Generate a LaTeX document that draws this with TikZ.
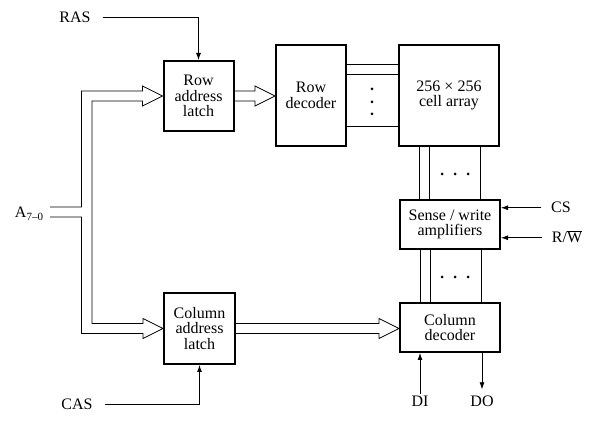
\documentclass[tikz,border=0pt]{standalone}
\usepackage{fontspec}
\setmainfont{Liberation Serif}
\usetikzlibrary{arrows.meta,calc}
\newcommand\busarrow[2]{\draw[wire] ($(#1)+(0,5pt)$) -- ($(#2)+(-20pt,5pt)$) -- ($(#2)+(-20pt,10pt)$) -- (#2) -- ($(#2)+(-20pt,-10pt)$) -- ($(#2)+(-20pt,-5pt)$) -- ($(#1)+(0,-5pt)$);}
\begin{document}
\begin{tikzpicture}[x=1pt,y=-1pt,
  blk/.style={draw,line width=2pt,align=center,inner sep=0pt,font=\fontsize{16}{15.5}\selectfont},
  lab/.style={font=\fontsize{16}{16}\selectfont,text height=10.5pt,text depth=0pt,inner sep=2pt},
  wire/.style={line width=0.8pt,line join=miter},
  sig/.style={wire,-{Latex[length=7pt,width=5pt]}},
  dot/.style={circle,fill,inner sep=0pt,minimum size=3pt}
]
\useasboundingbox (0,0) rectangle (590,422);

% blocks
\node[blk,minimum width=70pt,minimum height=70pt] (ral) at (198.5,96) {Row\\address\\latch};
\node[blk,minimum width=70pt,minimum height=101pt] (rd) at (311,95.5) {Row\\decoder};
\node[blk,minimum width=100pt,minimum height=101pt] (ca) at (449,95.5) {256 × 256\\cell array};
\node[blk,minimum width=100pt,minimum height=49pt] (sw) at (450,224.5) {Sense / write\\amplifiers};
\node[blk,minimum width=100pt,minimum height=49pt] (cd) at (450,327.5) {Column\\decoder};
\node[blk,minimum width=71pt,minimum height=71pt] (cal) at (199.5,328.5) {Column\\address\\latch};

% labels
\node[lab,anchor=base] (ras) at (75,23) {RAS};
\node[lab,anchor=base] (cas) at (77,410) {CAS};
\node[lab,anchor=base] (alab) at (29,218) {A\raisebox{-3pt}{\fontsize{11}{11}\selectfont 7–0}};
\node[lab,anchor=base] (cs) at (561,213) {CS};
\node[lab,anchor=base] (rw) at (567,243) {R/$\overline{\hbox{W}}$};
\node[lab,anchor=base] (di) at (420,407) {DI};
\node[lab,anchor=base] (dout) at (482,407) {DO};

% control signals
\draw[sig] ([xshift=10pt]ras.east) -| (ral.north);
\draw[sig] ([xshift=10pt]cas.east) -| (cal.south);
\draw[sig] ([xshift=-8pt]cs.west) -- (cs.west -| sw.east);
\draw[sig] ([xshift=-8pt]rw.west) -- (rw.west -| sw.east);
\draw[sig] (di.north) -- (di.north |- cd.south);
\draw[sig] (cd.south -| dout.north) -- ([yshift=5pt]dout.north);

% address bus
\coordinate (Ain) at (50,212);
\coordinate (jo) at (81.5,212);
\coordinate (ji) at (92,212);
\draw[wire] ($(Ain)+(0,5pt)$) -- ($(jo)+(0,5pt)$) -- ($(jo |- ral.west)+(0,5pt)$)
  -- ($(ral.west)+(-20pt,5pt)$) -- ($(ral.west)+(-20pt,10pt)$) -- (ral.west)
  -- ($(ral.west)+(-20pt,-10pt)$) -- ($(ral.west)+(-20pt,-5pt)$)
  -- ($(ji |- ral.west)+(0,-5pt)$) -- ($(ji |- cal.west)+(0,5pt)$)
  -- ($(cal.west)+(-20pt,5pt)$) -- ($(cal.west)+(-20pt,10pt)$) -- (cal.west)
  -- ($(cal.west)+(-20pt,-10pt)$) -- ($(cal.west)+(-20pt,-5pt)$)
  -- ($(jo |- cal.west)+(0,-5pt)$) -- ($(jo)+(0,-5pt)$) -- ($(Ain)+(0,-5pt)$);
\busarrow{ral.east}{ral.east -| rd.west}
\busarrow{cal.east}{cal.east -| cd.west}

% row lines
\foreach \d in {20,30,82}
  \draw[wire] ($(rd.north east)+(0,-\d pt)$) coordinate (t) -- (t -| ca.west);
\foreach \y in {89,102,114}
  \node[dot] (rdot\y) at (372,\y) {};

% column lines
\foreach \d in {21,31,82} {
  \draw[wire] ($(ca.south west)+(\d pt,0)$) coordinate (t) -- (t |- sw.north);
  \draw[wire] ($(sw.south west)+(\d pt,0)$) coordinate (t) -- (t |- cd.north);
}
\foreach \x in {442,455,468} {
  \node[dot] (cdotA\x) at (\x,174) {};
  \node[dot] (cdotB\x) at (\x,277) {};
}
\end{tikzpicture}
\end{document}
